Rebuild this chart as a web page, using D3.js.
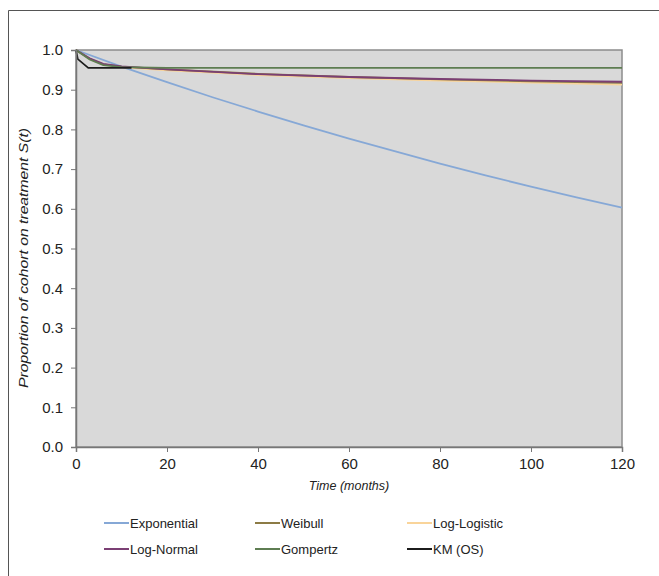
<!DOCTYPE html>
<html><head><meta charset="utf-8">
<script src="https://cdn.jsdelivr.net/npm/d3@7"></script>
<style>body{margin:0;background:#fff;}svg{display:block;font-family:"Liberation Sans",Arial,sans-serif;}</style>
</head><body><svg id="c" width="659" height="576"></svg>
<script>
const xTicks = [0,20,40,60,80,100,120];
const yTicks = [0,0.1,0.2,0.3,0.4,0.5,0.6,0.7,0.8,0.9,1.0];
const seriesNames = ["Exponential","Weibull","Log-Logistic","Log-Normal","Gompertz","KM (OS)"];
const seriesColors = ["#86a8d6","#8c7b45","#f9d49a","#7b3f74","#5e7d52","#1c1c1c"];
const expT = [0,10,20,30,40,50,60,70,80,90,100,110,120];
const expS = [1.0,0.958,0.919,0.881,0.845,0.810,0.777,0.745,0.714,0.684,0.656,0.629,0.603];
const weiT = [0,3,6,10,20,40,60,80,100,120];
const weiS = [1.0,0.978,0.964,0.958,0.951,0.940,0.932,0.926,0.921,0.917];
const llT = [0,3,6,10,20,40,60,80,100,120];
const llS = [1.0,0.977,0.963,0.957,0.949,0.937,0.929,0.923,0.918,0.913];
const lnT = [0,3,6,10,20,40,60,80,100,120];
const lnS = [1.0,0.979,0.965,0.959,0.951,0.939,0.932,0.927,0.923,0.920];
const gomT = [0,3,6,10,20,40,60,80,100,120];
const gomS = [1.0,0.976,0.962,0.957,0.955,0.955,0.955,0.955,0.955,0.955];
const kmT = [0,0.4,2.7,12.2];
const kmS = [1.0,0.977,0.955,0.955];
const seriesT = [expT,weiT,llT,lnT,gomT,kmT];
const seriesS = [expS,weiS,llS,lnS,gomS,kmS];

const svg = d3.select("#c");
// outer frame (top & left edges)
svg.append("line").attr("x1",8.5).attr("x2",659).attr("y1",10.5).attr("y2",10.5).attr("stroke","#555").attr("stroke-width",1);
svg.append("line").attr("x1",8.5).attr("x2",8.5).attr("y1",10.5).attr("y2",576).attr("stroke","#555").attr("stroke-width",1);

const L=76, R=622, T=50, B=447;
const x = d3.scaleLinear().domain([0,120]).range([L,R]);
const y = d3.scaleLinear().domain([0,1]).range([B,T]);

svg.append("rect").attr("x",L).attr("y",T).attr("width",R-L).attr("height",B-T)
  .attr("fill","#d9d9d9").attr("stroke","#8c8c8c").attr("stroke-width",1.5);

const line = d3.line().x(d=>x(d[0])).y(d=>y(d[1]));
[0,2,1,3,4,5].forEach(i=>{
  const pts = seriesT[i].map((t,j)=>[t,seriesS[i][j]]);
  svg.append("path").datum(pts).attr("d",line).attr("fill","none")
    .attr("stroke",seriesColors[i]).attr("stroke-width",i===5?1.7:1.8);
});

const xa = svg.append("g").attr("transform",`translate(0,${B})`)
  .call(d3.axisBottom(x).tickValues(xTicks).tickSize(5).tickFormat(d3.format("d")));
const ya = svg.append("g").attr("transform",`translate(${L},0)`)
  .call(d3.axisLeft(y).tickValues(yTicks).tickSize(5).tickFormat(d3.format(".1f")));
[xa,ya].forEach(a=>{
  a.select(".domain").attr("stroke","#777").attr("stroke-width",1.5);
  a.selectAll(".tick line").attr("stroke","#777");
  a.selectAll("text").attr("font-size",15).attr("fill","#222").attr("font-family","Liberation Sans, Arial, sans-serif");
});
xa.selectAll("text").attr("dy","0.95em");
ya.selectAll("text").attr("dx","-5");

svg.append("text").attr("x",(L+R)/2).attr("y",490).attr("text-anchor","middle")
  .attr("font-size",12.5).attr("font-style","italic").attr("fill","#222").text("Time (months)");
svg.append("text").attr("transform",`translate(28,258) rotate(-90)`).attr("text-anchor","middle")
  .attr("font-size",12.5).attr("font-style","italic").attr("fill","#222")
  .attr("textLength",260).attr("lengthAdjust","spacingAndGlyphs")
  .text("Proportion of cohort on treatment S(t)");

const legX = [104,255,407], legY = [523,549];
seriesNames.forEach((n,i)=>{
  const cx = legX[i%3], cy = legY[Math.floor(i/3)];
  svg.append("line").attr("x1",cx).attr("x2",cx+25).attr("y1",cy).attr("y2",cy)
    .attr("stroke",seriesColors[i]).attr("stroke-width",2);
  svg.append("text").attr("x",cx+26).attr("y",cy+5).attr("font-size",13).attr("fill","#222").text(n);
});
</script></body></html>
